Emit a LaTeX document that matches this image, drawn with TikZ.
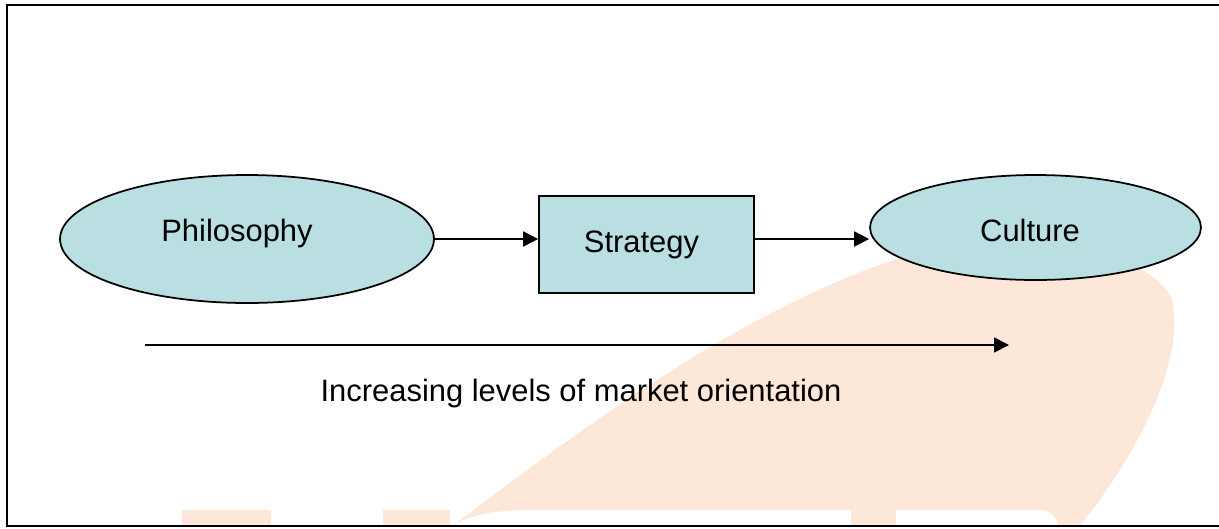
\documentclass[tikz,border=0pt]{standalone}
\usepackage{fontspec}
\setmainfont{Liberation Sans}
\usetikzlibrary{arrows.meta}
\usetikzlibrary{shapes.geometric}
\definecolor{boxblue}{RGB}{186,223,226}
\definecolor{peach}{RGB}{252,231,216}

\begin{document}
\begin{tikzpicture}[x=0.02cm, y=-0.02cm,
  every node/.style={font=\fontsize{17.6}{21}\selectfont},
  oval/.style={ellipse, draw, fill=boxblue, line width=1pt, inner sep=0pt},
  block/.style={rectangle, draw, fill=boxblue, line width=1pt, inner sep=0pt},
  link/.style={line width=1pt, -{Triangle[length=8.5pt, width=8.5pt]}}]
\useasboundingbox (0,0) rectangle (1219,528);
\fill[white] (0,0) rectangle (1219,528);

% faint logo behind the diagram
\fill[peach] (452,526) .. controls (580,430) and (740,310) .. (900,258)
  .. controls (1000,228) and (1150,245) .. (1172,300)
  .. controls (1185,360) and (1140,450) .. (1080,526) -- cycle;
\fill[peach] (182,510) rectangle (271,526);
\fill[peach] (383,510) rectangle (450,526);
\fill[white] (452,526) .. controls (470,514) and (500,510) .. (533,510) -- (851,510) -- (851,526) -- cycle;
\fill[white] (896,526) -- (896,510) -- (1040,510) .. controls (1050,510) and (1056,516) .. (1058,526) -- cycle;

% frame
\draw[line width=1.2pt] (1219,5) -- (7,5) -- (7,526) -- (1219,526);

\node[oval, minimum width=7.48cm, minimum height=2.56cm] (phil) at (247,239) {};
\node[anchor=base] (philtext) at (237,241.7) {Philosophy};
\node[block, minimum width=4.3cm, minimum height=1.94cm] (strat) at (646.5,244.5) {};
\node[anchor=base] (strattext) at (641.5,252.7) {Strategy};
\node[oval, minimum width=6.62cm, minimum height=2.1cm] (cult) at (1035.5,227.5) {};
\node[anchor=base] (culttext) at (1030,241.7) {Culture};

\draw[link] (phil.east) -- (phil.east -| strat.west);
\draw[link] (strat.east |- phil.east) -- (phil.east -| cult.west);

\coordinate (low) at (145,345);
\coordinate (high) at (1009,345);
\draw[link] (low) -- (high);
\node[anchor=base] (levels) at (581,401) {Increasing levels of market orientation};
\end{tikzpicture}
\end{document}
